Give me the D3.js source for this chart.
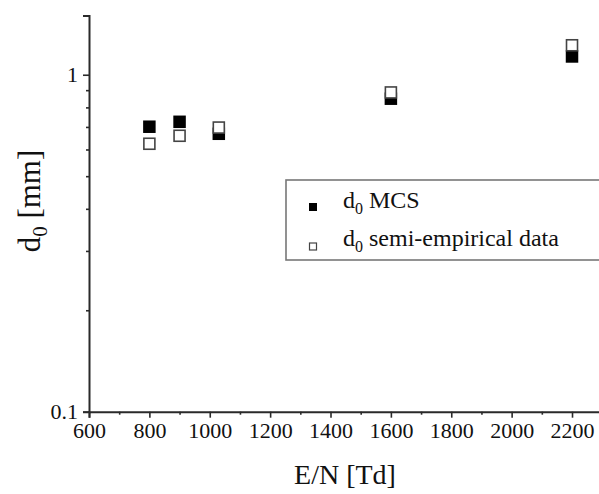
<!DOCTYPE html>
<html>
<head>
<meta charset="utf-8">
<script src="https://cdn.jsdelivr.net/npm/d3@7"></script>
<style>
  html, body { margin: 0; padding: 0; background: #fff; }
  svg { display: block; }
  svg text { font-family: "Liberation Serif", "DejaVu Serif", serif !important; fill: #111; }
</style>
</head>
<body>
<svg id="chart" width="599" height="494"></svg>
<script>
// ---- data ----
const energies = [800, 900, 1030, 1600, 2200];          // E/N [Td]
const mcsValues = [0.701, 0.725, 0.668, 0.849, 1.133];  // d0 MCS [mm]
const semiValues = [0.624, 0.659, 0.697, 0.886, 1.223]; // d0 semi-empirical [mm]
const xMajorTicks = [600, 800, 1000, 1200, 1400, 1600, 1800, 2000, 2200];
const xMinorTicks = [700, 900, 1100, 1300, 1500, 1700, 1900, 2100, 2300];
const yMajorTicks = [0.1, 1];
const yMinorTicks = [0.2, 0.3, 0.4, 0.5, 0.6, 0.7, 0.8, 0.9];
const legendLabels = ["MCS", "semi-empirical data"];

// ---- layout ----
const svg = d3.select("#chart");
const x = d3.scaleLinear().domain([600, 2300]).range([89, 602.2]);
const y = d3.scaleLog().domain([0.1, 1.5]).range([411.7, 15.4]);

const axisColor = "#2a2a2a";
const serif = "'Liberation Serif', 'DejaVu Serif', serif";

// x axis
const gx = svg.append("g").attr("transform", `translate(0,${y(0.1)})`);
gx.call(d3.axisBottom(x).tickValues(xMajorTicks).tickSize(6).tickFormat(d3.format("d")));
gx.append("g").call(d3.axisBottom(x).tickValues(xMinorTicks).tickSize(3).tickFormat(""))
  .select(".domain").remove();
gx.attr("font-family", null);
gx.select(".domain").attr("stroke", axisColor).attr("stroke-width", 2);
gx.selectAll(".tick line").attr("stroke", axisColor).attr("stroke-width", 1.6);
gx.selectAll(".tick text")
  .style("font-family", serif)
  .style("font-size", "22px")
  .attr("fill", "#111")
  .attr("y", 11)
  .attr("dy", "0.71em");

// y axis
const gy = svg.append("g").attr("transform", `translate(${x(600)},0)`);
gy.call(d3.axisLeft(y).tickValues(yMajorTicks).tickSize(6).tickFormat(d => d === 1 ? "1" : "0.1"));
gy.append("g").call(d3.axisLeft(y).tickValues(yMinorTicks).tickSize(3).tickFormat(""))
  .select(".domain").remove();
gy.attr("font-family", null);
gy.select(".domain").attr("stroke", axisColor).attr("stroke-width", 2);
gy.selectAll(".tick line").attr("stroke", axisColor).attr("stroke-width", 1.6);
gy.selectAll(".tick text")
  .style("font-family", serif)
  .style("font-size", "22px")
  .attr("fill", "#111")
  .attr("x", -11)
  .attr("dy", "0.32em");

// axis titles
svg.append("text")
  .attr("x", (x(600) + 599) / 2 + 1)
  .attr("y", 484)
  .attr("text-anchor", "middle")
  .style("font-size", "28px")
  .text("E/N [Td]");

const yTitle = svg.append("text")
  .attr("transform", `translate(40,${201}) rotate(-90)`)
  .attr("text-anchor", "middle")
  .style("font-size", "31px");
yTitle.append("tspan").text("d");
yTitle.append("tspan").style("font-size", "21px").attr("dy", 7).text("0");
yTitle.append("tspan").attr("dy", -7).text(" [mm]");

// ---- marks ----
const size = 12.5;
svg.append("g").selectAll("rect")
  .data(energies.map((e, i) => ({ e, v: mcsValues[i] })))
  .join("rect")
  .attr("x", d => x(d.e) - size / 2)
  .attr("y", d => y(d.v) - size / 2)
  .attr("width", size)
  .attr("height", size)
  .attr("fill", "#000");

svg.append("g").selectAll("rect")
  .data(energies.map((e, i) => ({ e, v: semiValues[i] })))
  .join("rect")
  .attr("x", d => x(d.e) - size / 2 + 0.75)
  .attr("y", d => y(d.v) - size / 2 + 0.75)
  .attr("width", size - 1.5)
  .attr("height", size - 1.5)
  .attr("fill", "#fff")
  .attr("stroke", "#444")
  .attr("stroke-width", 1.6);

// ---- legend ----
const lg = svg.append("g");
lg.append("rect")
  .attr("x", 286).attr("y", 180)
  .attr("width", 330).attr("height", 80)
  .attr("fill", "#fff")
  .attr("stroke", "#777")
  .attr("stroke-width", 1.6);

const legendRows = [
  { label: legendLabels[0], filled: true, cy: 207, base: 208 },
  { label: legendLabels[1], filled: false, cy: 246.5, base: 246 }
];
legendRows.forEach(r => {
  lg.append("rect")
    .attr("x", r.filled ? 309 : 309.5)
    .attr("y", r.cy - (r.filled ? 4 : 3.5))
    .attr("width", r.filled ? 8 : 7)
    .attr("height", r.filled ? 8 : 7)
    .attr("fill", r.filled ? "#000" : "#fff")
    .attr("stroke", r.filled ? "none" : "#444")
    .attr("stroke-width", 1.2);
  const t = lg.append("text")
    .attr("x", 343)
    .attr("y", r.base)
    .style("font-size", "24px");
  t.append("tspan").text("d");
  t.append("tspan").style("font-size", "16px").attr("dy", 6).text("0");
  t.append("tspan").attr("dy", -6).text(" " + r.label);
});
</script>
</body>
</html>
